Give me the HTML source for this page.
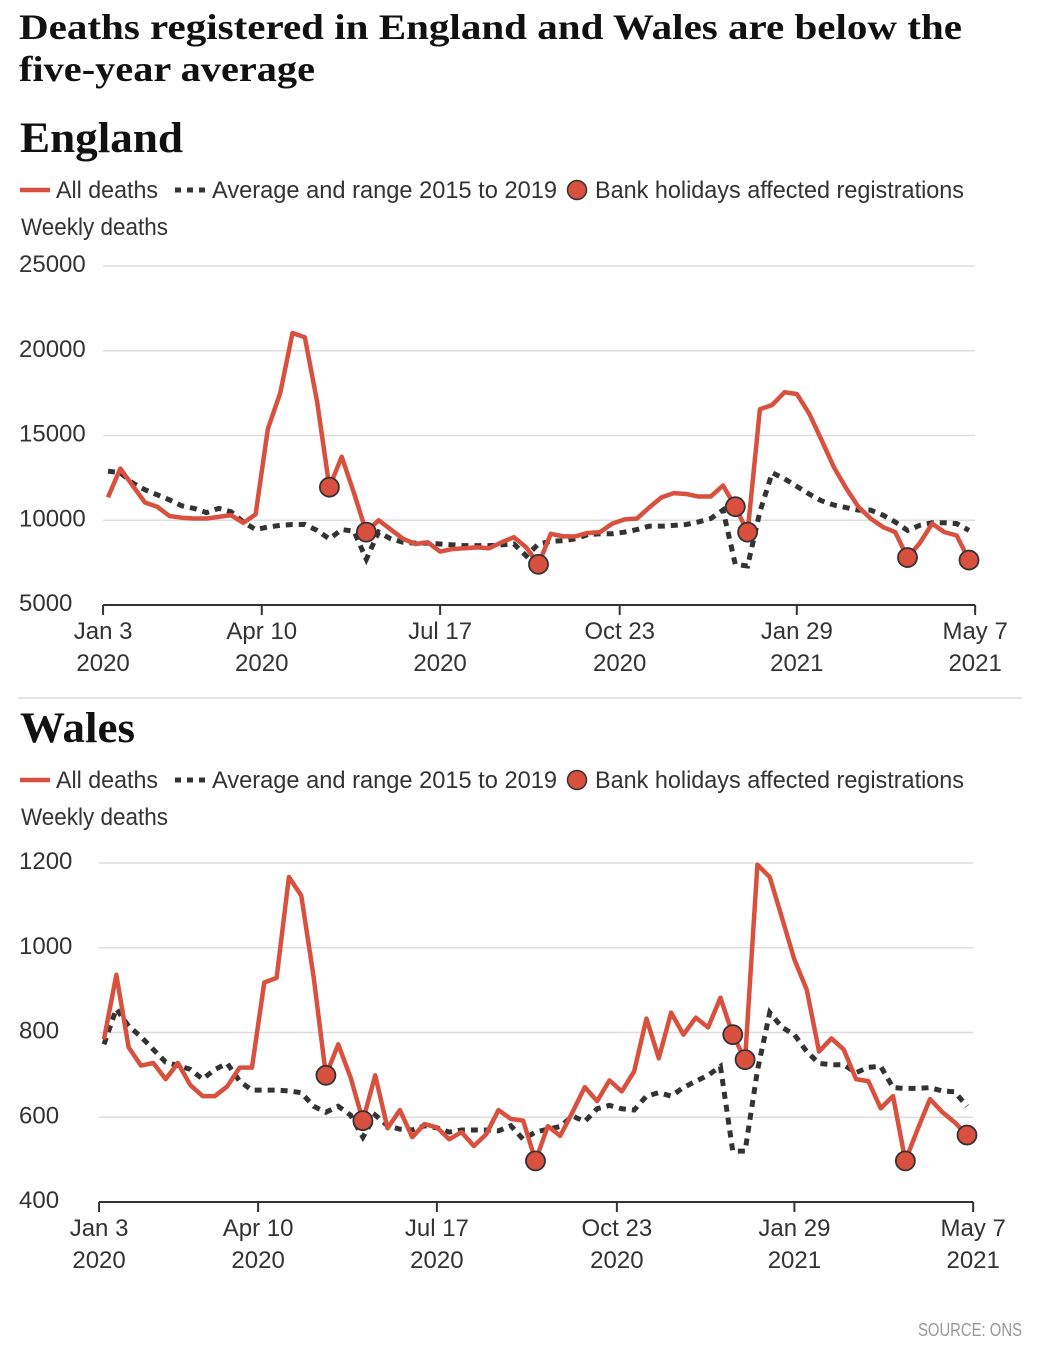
<!DOCTYPE html>
<html><head><meta charset="utf-8"><style>
body{margin:0;background:#fff;}
svg{display:block;font-family:"Liberation Sans Narrow","Liberation Sans",sans-serif;}
.ser{font-family:"Liberation Serif",serif;font-weight:bold;fill:#111;}
.lbl{font-size:24px;fill:#333;}
</style></head><body>
<svg id="page" width="1042" height="1358" viewBox="0 0 1042 1358" xmlns="http://www.w3.org/2000/svg">
<text class="ser" x="19" y="39" font-size="36" textLength="943" lengthAdjust="spacingAndGlyphs">Deaths registered in England and Wales are below the</text>
<text class="ser" x="19" y="81" font-size="36" textLength="296" lengthAdjust="spacingAndGlyphs">five-year average</text>
<line x1="18" y1="698" x2="1022" y2="698" stroke="#ddd" stroke-width="1.5"/>
<text x="1022" y="1336" text-anchor="end" font-size="18" fill="#999" textLength="104" lengthAdjust="spacingAndGlyphs">SOURCE: ONS</text>
<g id="eng"></g>
<g id="wal"></g>
</svg>
<script>
const tickWeeks=[-0.4,12.5,27,41.6,56,70.5];
const tickTop=["Jan 3","Apr 10","Jul 17","Oct 23","Jan 29","May 7"];
const tickBottom=["2020","2020","2020","2020","2021","2021"];
const engTicks=[5000,10000,15000,20000,25000];
const engDeaths=[11350,13050,12050,11050,10800,10250,10150,10100,10100,10200,10300,9850,10350,15400,17500,21050,20800,17000,11950,13750,11600,9300,10000,9450,8900,8600,8700,8150,8300,8350,8400,8350,8700,9000,8400,7400,9200,9050,9050,9250,9300,9800,10050,10100,10750,11350,11600,11550,11400,11400,12050,10800,9300,16550,16800,17550,17450,16300,14750,13150,11900,10800,10100,9600,9300,7800,8650,9800,9300,9100,7650];
const engAvg=[12900,12800,12200,11800,11500,11200,10850,10700,10450,10700,10500,9900,9450,9600,9700,9750,9750,9400,8900,9450,9350,7700,9300,8900,8700,8650,8650,8600,8550,8500,8500,8500,8550,8600,7900,8600,8750,8800,8900,9150,9200,9200,9300,9450,9650,9650,9700,9750,9900,10100,10600,7400,7300,10500,12800,12450,12000,11550,11150,10900,10750,10600,10600,10300,9900,9400,9700,9850,9850,9800,9400];
const engBank=[18,21,35,51,52,65,70];
const walTicks=[400,600,800,1000,1200];
const walDeaths=[784,936,765,722,728,690,728,676,650,650,673,717,717,918,929,1167,1123,932,699,772,694,592,699,574,617,553,584,576,548,565,532,560,617,596,592,497,579,556,612,671,638,687,661,708,833,739,847,795,835,812,882,795,736,1196,1167,1070,972,901,755,786,760,690,685,621,650,497,572,643,612,588,558];
const walAvg=[772,856,815,790,760,730,722,713,690,713,727,685,664,664,664,662,658,626,612,626,605,553,605,580,572,570,580,575,565,570,570,570,568,580,548,565,572,578,603,590,620,628,620,617,650,658,650,670,685,699,720,520,520,710,847,812,795,755,727,724,724,705,718,720,670,668,668,670,662,660,626];
const walBank=[18,21,35,51,52,65,70];

const NS="http://www.w3.org/2000/svg";
function mk(p,t,a){const e=document.createElementNS(NS,t);for(const k in a)e.setAttribute(k,a[k]);p.appendChild(e);return e;}
function draw(g,o){
  const top=o.top;
  const t=mk(g,'text',{x:20,y:top,'font-size':43,'class':'ser',textLength:o.titleW,lengthAdjust:'spacingAndGlyphs'});t.textContent=o.title;
  
  
  const ly=top+46;
  const l1=mk(g,'line',{x1:20,y1:ly-8,x2:50,y2:ly-8,stroke:'#d9503f','stroke-width':4.5});
  
  
  const t1=mk(g,'text',{x:56,y:ly,'class':'lbl',textLength:102,lengthAdjust:'spacingAndGlyphs'});t1.textContent='All deaths';
  
  
  const l2=mk(g,'line',{x1:175,y1:ly-8,x2:205,y2:ly-8,stroke:'#333','stroke-width':5,'stroke-dasharray':'6,6'});
  
  
  const t2=mk(g,'text',{x:212,y:ly,'class':'lbl',textLength:345,lengthAdjust:'spacingAndGlyphs'});t2.textContent='Average and range 2015 to 2019';
  
  
  const c=mk(g,'circle',{cx:577,cy:ly-8,r:9.5,fill:'#d9503f',stroke:'#333','stroke-width':1.5});
  
  
  const t3=mk(g,'text',{x:595,y:ly,'class':'lbl',textLength:369,lengthAdjust:'spacingAndGlyphs'});t3.textContent='Bank holidays affected registrations';
  
  
  const t4=mk(g,'text',{x:21,y:ly+37,'class':'lbl',textLength:147,lengthAdjust:'spacingAndGlyphs'});t4.textContent='Weekly deaths';
  
  
  const x=w=>o.x0+w*(o.x1-o.x0)/70;
  const tMin=o.ticks[0],tMax=o.ticks[o.ticks.length-1];
  const y=v=>o.yb+(v-tMin)*(o.yt-o.yb)/(tMax-tMin);
  const xl=x(tickWeeks[0]),xr=x(tickWeeks[tickWeeks.length-1]);
  o.ticks.forEach((v,i)=>{
    if(i>0){const gl=mk(g,'line',{x1:xl,x2:xr,y1:y(v),y2:y(v),stroke:'#ddd','stroke-width':1.5});
    
    }
    const tl=mk(g,'text',{x:19,y:y(v)+6,'class':'lbl'});tl.textContent=v;
    
    
  });
  const ax=mk(g,'line',{x1:xl,x2:xr,y1:o.yb,y2:o.yb,stroke:'#333','stroke-width':2});
  
  
  tickWeeks.forEach((w,i)=>{
    const tk=mk(g,'line',{x1:x(w),x2:x(w),y1:o.yb,y2:o.yb+10,stroke:'#333','stroke-width':2});
    
    
    const a=mk(g,'text',{x:x(w),y:o.yb+34,'text-anchor':'middle','class':'lbl'});a.textContent=tickTop[i];
    
    
    const b=mk(g,'text',{x:x(w),y:o.yb+66,'text-anchor':'middle','class':'lbl'});b.textContent=tickBottom[i];
    
    
  });
  const pa=mk(g,'polyline',{points:o.avg.map((v,i)=>x(i)+','+y(v)).join(' '),fill:'none',stroke:'#333','stroke-width':5,'stroke-dasharray':'7,6'});
  
  
  const pd=mk(g,'polyline',{points:o.deaths.map((v,i)=>x(i)+','+y(v)).join(' '),fill:'none',stroke:'#d9503f','stroke-width':4.5,'stroke-linejoin':'round'});
  
  
  o.bank.forEach(i=>{
    const m=mk(g,'circle',{cx:x(i),cy:y(o.deaths[i]),r:9.5,fill:'#d9503f',stroke:'#333','stroke-width':1.8});
    
    
  });
}
draw(document.getElementById('eng'),{title:'England',titleW:163,top:152,x0:108,x1:969,yt:266,yb:605,ticks:engTicks,deaths:engDeaths,avg:engAvg,bank:engBank});
draw(document.getElementById('wal'),{title:'Wales',titleW:115,top:742,x0:104,x1:967,yt:863,yb:1202,ticks:walTicks,deaths:walDeaths,avg:walAvg,bank:walBank});
</script>
</body></html>
